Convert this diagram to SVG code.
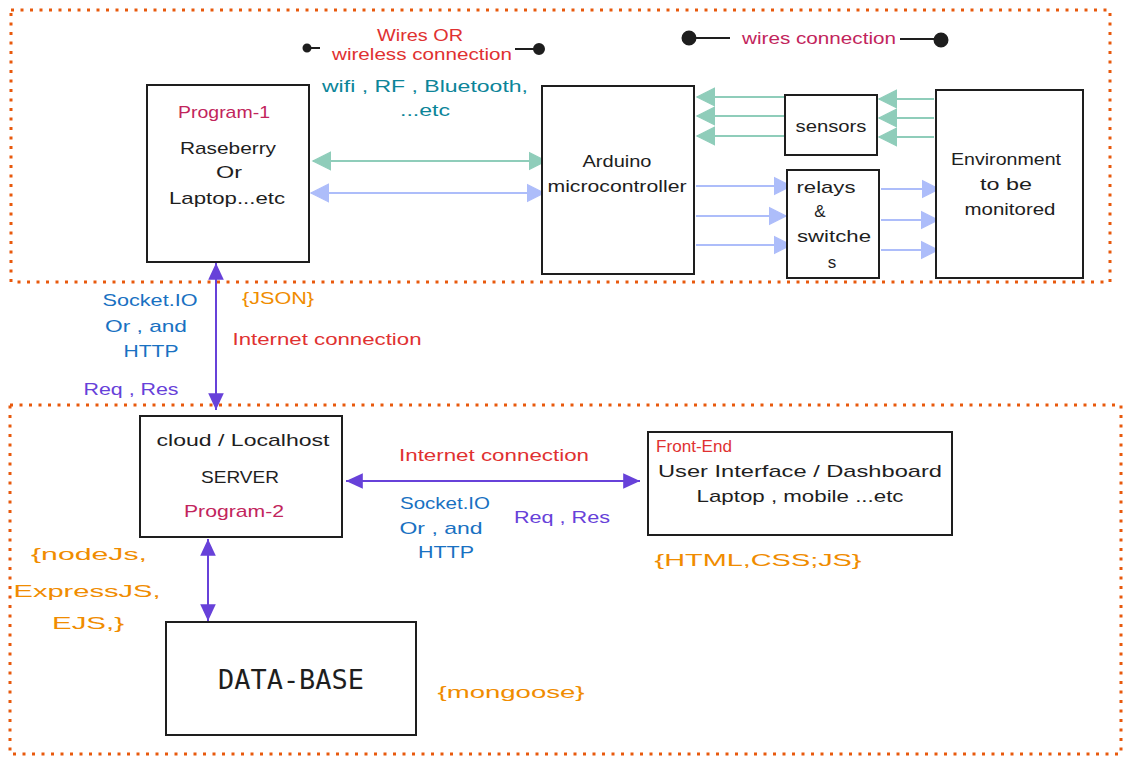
<svg xmlns="http://www.w3.org/2000/svg" width="1131" height="765" viewBox="0 0 1131 765">
<style>
text{font-family:"Liberation Sans","DejaVu Sans",sans-serif;font-size:17px;text-anchor:middle;fill:#1e1e1e}
.box{fill:#fff;stroke:#1e1e1e;stroke-width:2}
.zone{fill:none;stroke:#e8590c;stroke-width:3;stroke-dasharray:3 6.5;stroke-linecap:butt}
.red{fill:#e03131}.crim{fill:#c2255c}.teal{fill:#0c8599}.blue{fill:#1971c2}.org{fill:#f08c00}.pur{fill:#6741d9}
.g{stroke:#099268;stroke-width:2;fill:none}
.b{stroke:#4c6ef5;stroke-width:2;fill:none}
.p{stroke:#6741d9;stroke-width:2;fill:none}
.mono{font-family:"DejaVu Sans Mono","Liberation Mono",monospace;font-size:27px}
</style>
<defs>
<marker id="ag" markerUnits="userSpaceOnUse" markerWidth="20" markerHeight="20" refX="14" refY="8" orient="auto-start-reverse" viewBox="0 0 16 16"><path d="M0,1 L14,8 L0,15 Z" fill="#099268" stroke="#099268" stroke-width="1"/></marker>
<marker id="ab" markerUnits="userSpaceOnUse" markerWidth="20" markerHeight="20" refX="14" refY="8" orient="auto-start-reverse" viewBox="0 0 16 16"><path d="M0,1 L14,8 L0,15 Z" fill="#4c6ef5" stroke="#4c6ef5" stroke-width="1"/></marker>
<marker id="ap" markerUnits="userSpaceOnUse" markerWidth="18" markerHeight="18" refX="14" refY="7" orient="auto-start-reverse" viewBox="0 0 15 14"><path d="M0,0.5 L14,7 L0,13.5 Z" fill="#6741d9"/></marker>
</defs>

<g id="zones">
<rect class="zone" x="11" y="10" width="1099" height="272"/>
<rect class="zone" x="10" y="405" width="1111" height="349"/>
</g>

<g id="connectors">
<g opacity="0.45">
<line class="g" x1="313" y1="161" x2="546" y2="161" marker-start="url(#ag)" marker-end="url(#ag)"/>
<line class="g" x1="784" y1="97" x2="697" y2="97" marker-end="url(#ag)"/>
<line class="g" x1="784" y1="116" x2="697" y2="116" marker-end="url(#ag)"/>
<line class="g" x1="784" y1="136" x2="697" y2="136" marker-end="url(#ag)"/>
<line class="g" x1="934" y1="99" x2="879" y2="99" marker-end="url(#ag)"/>
<line class="g" x1="934" y1="118" x2="879" y2="118" marker-end="url(#ag)"/>
<line class="g" x1="934" y1="137" x2="879" y2="137" marker-end="url(#ag)"/>
</g>
<g opacity="0.45">
<line class="b" x1="311" y1="193" x2="544" y2="193" marker-start="url(#ab)" marker-end="url(#ab)"/>
<line class="b" x1="696" y1="186" x2="791" y2="186" marker-end="url(#ab)"/>
<line class="b" x1="696" y1="216" x2="786" y2="216" marker-end="url(#ab)"/>
<line class="b" x1="696" y1="245" x2="791" y2="245" marker-end="url(#ab)"/>
<line class="b" x1="881" y1="189" x2="939" y2="189" marker-end="url(#ab)"/>
<line class="b" x1="881" y1="220" x2="938" y2="220" marker-end="url(#ab)"/>
<line class="b" x1="881" y1="250" x2="938" y2="250" marker-end="url(#ab)"/>
</g>
<line class="p" x1="216" y1="263" x2="216" y2="410" marker-start="url(#ap)" marker-end="url(#ap)"/>
<line class="p" x1="346" y1="481" x2="640" y2="481" marker-start="url(#ap)" marker-end="url(#ap)"/>
<line class="p" x1="208" y1="539" x2="208" y2="621" marker-start="url(#ap)" marker-end="url(#ap)"/>
<g stroke="#1e1e1e" stroke-width="2" fill="#1e1e1e">
<line x1="307" y1="48" x2="320" y2="48"/><circle cx="307" cy="48" r="3.5"/>
<line x1="515" y1="49" x2="538" y2="49"/><circle cx="539" cy="49" r="5"/>
<line x1="689" y1="38" x2="730" y2="38"/><circle cx="689" cy="38" r="6.5"/>
<line x1="900" y1="39" x2="940" y2="39"/><circle cx="941" cy="40" r="6.5"/>
</g>
</g>

<g id="labels">
<text class="red" x="420" y="41" font-size="16" textLength="86" lengthAdjust="spacingAndGlyphs">Wires OR</text>
<text class="red" x="422" y="60" font-size="16" textLength="180" lengthAdjust="spacingAndGlyphs">wireless connection</text>
<text class="crim" x="819" y="44" textLength="154" lengthAdjust="spacingAndGlyphs">wires connection</text>
<text class="teal" x="425" y="92" textLength="206" lengthAdjust="spacingAndGlyphs">wifi , RF , Bluetooth,</text>
<text class="teal" x="425" y="116" textLength="50" lengthAdjust="spacingAndGlyphs">...etc</text>
<text class="blue" x="150" y="306" textLength="95" lengthAdjust="spacingAndGlyphs">Socket.IO</text>
<text class="blue" x="146" y="332" textLength="82" lengthAdjust="spacingAndGlyphs">Or , and</text>
<text class="blue" x="151" y="357" textLength="55" lengthAdjust="spacingAndGlyphs">HTTP</text>
<text class="org" x="278" y="304" font-size="16" textLength="72" lengthAdjust="spacingAndGlyphs">{JSON}</text>
<text class="red" x="327" y="345" textLength="189" lengthAdjust="spacingAndGlyphs">Internet connection</text>
<text class="pur" x="131" y="395" textLength="95" lengthAdjust="spacingAndGlyphs">Req , Res</text>
<text class="red" x="494" y="461" textLength="190" lengthAdjust="spacingAndGlyphs">Internet connection</text>
<text class="blue" x="445" y="509" textLength="90" lengthAdjust="spacingAndGlyphs">Socket.IO</text>
<text class="blue" x="441" y="534" textLength="83" lengthAdjust="spacingAndGlyphs">Or , and</text>
<text class="blue" x="446" y="558" textLength="56" lengthAdjust="spacingAndGlyphs">HTTP</text>
<text class="pur" x="562" y="523" textLength="96" lengthAdjust="spacingAndGlyphs">Req , Res</text>
<text class="org" x="758" y="566" font-size="25" textLength="207" lengthAdjust="spacingAndGlyphs">{HTML,CSS;JS}</text>
<text class="org" x="89" y="560" font-size="25" textLength="116" lengthAdjust="spacingAndGlyphs">{nodeJs,</text>
<text class="org" x="87" y="597" font-size="25" textLength="147" lengthAdjust="spacingAndGlyphs">ExpressJS,</text>
<text class="org" x="88" y="629" font-size="25" textLength="72" lengthAdjust="spacingAndGlyphs">EJS,}</text>
<text class="org" x="511" y="698" font-size="25" textLength="147" lengthAdjust="spacingAndGlyphs">{mongoose}</text>
</g>

<g id="program1">
<rect class="box" x="147" y="85" width="162" height="177"/>
<text class="crim" x="224" y="118" font-size="15" textLength="92" lengthAdjust="spacingAndGlyphs">Program-1</text>
<text x="228" y="154" font-size="18" textLength="96" lengthAdjust="spacingAndGlyphs">Raseberry</text>
<text x="229" y="178" font-size="18" textLength="26" lengthAdjust="spacingAndGlyphs">Or</text>
<text x="227" y="204" font-size="18" textLength="116" lengthAdjust="spacingAndGlyphs">Laptop...etc</text>
</g>

<g id="arduino">
<rect class="box" x="542" y="86" width="152" height="188"/>
<text x="617" y="167" textLength="69" lengthAdjust="spacingAndGlyphs">Arduino</text>
<text x="617" y="192" textLength="139" lengthAdjust="spacingAndGlyphs">microcontroller</text>
</g>

<g id="sensors">
<rect class="box" x="785" y="95" width="92" height="60"/>
<text x="831" y="132" textLength="71" lengthAdjust="spacingAndGlyphs">sensors</text>
</g>

<g id="relays">
<rect class="box" x="787" y="170" width="92" height="108"/>
<text x="826" y="193" textLength="59" lengthAdjust="spacingAndGlyphs">relays</text>
<text x="820" y="217">&amp;</text>
<text x="834" y="242" textLength="74" lengthAdjust="spacingAndGlyphs">switche</text>
<text x="832" y="268">s</text>
</g>

<g id="environment">
<rect class="box" x="936" y="90" width="147" height="188"/>
<text x="1006" y="165" textLength="110" lengthAdjust="spacingAndGlyphs">Environment</text>
<text x="1006" y="190" textLength="52" lengthAdjust="spacingAndGlyphs">to be</text>
<text x="1010" y="215" textLength="91" lengthAdjust="spacingAndGlyphs">monitored</text>
</g>

<g id="server">
<rect class="box" x="140" y="416" width="202" height="121"/>
<text x="243" y="446" textLength="173" lengthAdjust="spacingAndGlyphs">cloud / Localhost</text>
<text x="240" y="483" textLength="78" lengthAdjust="spacingAndGlyphs">SERVER</text>
<text class="crim" x="234" y="517" textLength="100" lengthAdjust="spacingAndGlyphs">Program-2</text>
</g>

<g id="frontend">
<rect class="box" x="648" y="432" width="304" height="103"/>
<text class="red" x="656" y="452" font-size="13" style="text-anchor:start" textLength="76" lengthAdjust="spacingAndGlyphs">Front-End</text>
<text x="800" y="477" font-size="19" textLength="284" lengthAdjust="spacingAndGlyphs">User Interface / Dashboard</text>
<text x="800" y="502" font-size="19" textLength="207" lengthAdjust="spacingAndGlyphs">Laptop , mobile ...etc</text>
</g>

<g id="database">
<rect class="box" x="166" y="622" width="250" height="113"/>
<text class="mono" x="291" y="689" textLength="146" lengthAdjust="spacingAndGlyphs">DATA-BASE</text>
</g>
</svg>
